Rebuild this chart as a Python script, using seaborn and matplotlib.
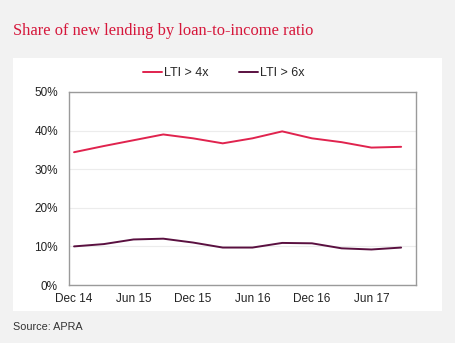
import matplotlib
matplotlib.use("Agg")
import matplotlib.pyplot as plt
import seaborn as sns
import pandas as pd
import numpy as np
from matplotlib.ticker import FuncFormatter
from matplotlib.lines import Line2D

quarters = ["Dec 14", "Mar 15", "Jun 15", "Sep 15", "Dec 15", "Mar 16",
            "Jun 16", "Sep 16", "Dec 16", "Mar 17", "Jun 17", "Sep 17"]
lti_4x = [34.4, 36.0, 37.5, 39.0, 38.0, 36.7, 38.0, 39.8, 38.0, 37.0, 35.6, 35.8]
lti_6x = [10.0, 10.6, 11.8, 12.0, 11.0, 9.7, 9.7, 10.9, 10.8, 9.5, 9.2, 9.7]
series_names = ["LTI > 4x", "LTI > 6x"]
tick_labels = ["Dec 14", "Jun 15", "Dec 15", "Jun 16", "Dec 16", "Jun 17"]
y_ticks = [0, 10, 20, 30, 40, 50]

df = pd.DataFrame({
    "quarter": list(range(len(quarters))) * 2,
    "value": lti_4x + lti_6x,
    "series": [series_names[0]] * len(quarters) + [series_names[1]] * len(quarters),
})

sns.set_theme(style="white")
plt.rcParams["font.family"] = ["Liberation Sans", "DejaVu Sans"]

W, H = 456, 343
fig = plt.figure(figsize=(W / 100, H / 100), dpi=100)
fig.patch.set_facecolor("#f2f2f2")
bg = fig.add_axes([13 / W, 1 - 311 / H, (442 - 13) / W, (311 - 58) / H])
bg.set_facecolor("white")
bg.set_xticks([])
bg.set_yticks([])
for s in bg.spines.values():
    s.set_visible(False)
bg.set_zorder(0)

ax = fig.add_axes([69 / W, 1 - 285 / H, (416 - 69) / W, (285 - 92) / H])
ax.set_zorder(1)
ax.set_facecolor("white")

palette = {series_names[0]: "#e0234e", series_names[1]: "#5a1040"}
sns.lineplot(data=df, x="quarter", y="value", hue="series", palette=palette,
             linewidth=1.4, ax=ax, legend=False)

ax.set_xlim(-0.17, 11.5)
ax.set_ylim(0, 50)
ax.set_yticks(y_ticks)
ax.yaxis.set_major_formatter(FuncFormatter(lambda v, p: f"{int(v)}%"))
tick_pos = [quarters.index(t) for t in tick_labels]
ax.set_xticks(tick_pos)
ax.set_xticklabels(tick_labels)
ax.set_xlabel("")
ax.set_ylabel("")
ax.tick_params(axis="both", labelsize=8.5, colors="#222222", length=0)
ax.tick_params(axis="y", pad=8)
ax.tick_params(axis="x", pad=6)
ax.grid(axis="y", color="#ececec", linewidth=0.8)
ax.set_axisbelow(True)
for s in ax.spines.values():
    s.set_visible(True)
    s.set_color("#9a9a9a")
    s.set_linewidth(1.0)

handles = [Line2D([], [], color=palette[n], linewidth=1.4) for n in series_names]
fig.legend(handles, series_names, loc="center", bbox_to_anchor=(224 / W, 1 - 73 / H),
           ncol=2, frameon=False, fontsize=9, handlelength=1.5, handletextpad=0.2,
           columnspacing=2.4)

fig.text(13 / W, 1 - 31 / H, "Share of new lending by loan-to-income ratio",
         family=["Liberation Serif", "DejaVu Serif"], fontsize=11.9, color="#d6173b",
         ha="left", va="center")
fig.text(13 / W, 1 - 327 / H, "Source: APRA", fontsize=7.8, color="#333333",
         ha="left", va="center")

fig.savefig("out.png", dpi=100, facecolor=fig.get_facecolor())
